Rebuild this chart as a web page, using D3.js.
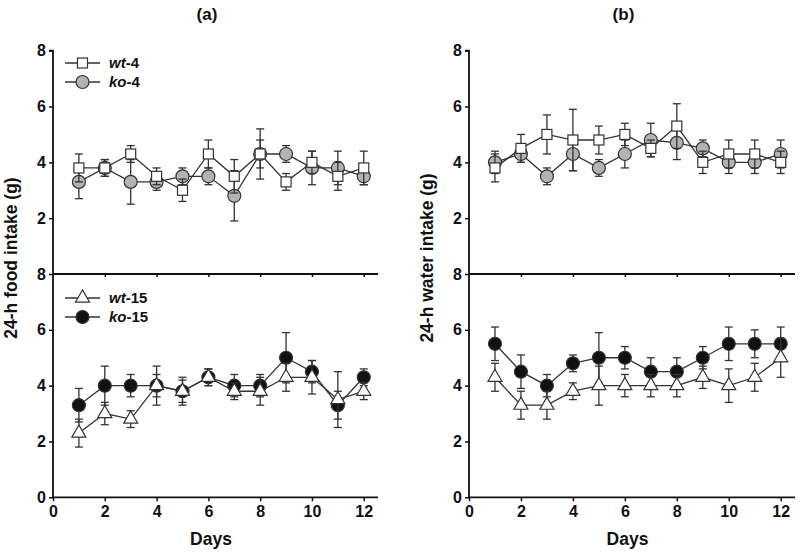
<!DOCTYPE html>
<html>
<head>
<meta charset="utf-8">
<script src="https://cdn.jsdelivr.net/npm/d3@7"></script>
<style>
  body { margin: 0; background: #fff; }
  text { font-family: Arial, "Liberation Sans", sans-serif; font-weight: bold; fill: #111; }
</style>
</head>
<body>
<svg id="chart" width="800" height="554"></svg>
<script>
// days on x axis
const days = [1, 2, 3, 4, 5, 6, 7, 8, 9, 10, 11, 12];

// (a) food intake, mean and sem
const foodWt4 = [3.8, 3.8, 4.3, 3.5, 3.0, 4.3, 3.5, 4.3, 3.3, 4.0, 3.5, 3.8];
const foodWt4Err = [0.5, 0.3, 0.3, 0.3, 0.4, 0.5, 0.6, 0.9, 0.3, 0.4, 0.5, 0.6];
const foodKo4 = [3.3, 3.8, 3.3, 3.3, 3.5, 3.5, 2.8, 4.3, 4.3, 3.8, 3.8, 3.5];
const foodKo4Err = [0.6, 0.3, 0.8, 0.3, 0.3, 0.3, 0.9, 0.5, 0.3, 0.6, 0.6, 0.3];
const foodWt15 = [2.3, 3.0, 2.8, 4.0, 3.8, 4.3, 3.8, 3.8, 4.3, 4.3, 3.5, 3.8];
const foodWt15Err = [0.5, 0.4, 0.3, 0.7, 0.5, 0.3, 0.3, 0.5, 0.5, 0.6, 1.0, 0.3];
const foodKo15 = [3.3, 4.0, 4.0, 4.0, 3.8, 4.3, 4.0, 4.0, 5.0, 4.5, 3.3, 4.3];
const foodKo15Err = [0.6, 0.7, 0.4, 0.4, 0.4, 0.3, 0.4, 0.4, 0.9, 0.4, 0.5, 0.3];

// (b) water intake, mean and sem
const waterWt4 = [3.8, 4.5, 5.0, 4.8, 4.8, 5.0, 4.5, 5.3, 4.0, 4.3, 4.3, 4.0];
const waterWt4Err = [0.5, 0.5, 0.7, 1.1, 0.5, 0.4, 0.3, 0.8, 0.4, 0.5, 0.5, 0.4];
const waterKo4 = [4.0, 4.3, 3.5, 4.3, 3.8, 4.3, 4.8, 4.7, 4.5, 4.0, 4.0, 4.3];
const waterKo4Err = [0.4, 0.3, 0.3, 0.6, 0.3, 0.5, 0.6, 0.6, 0.3, 0.4, 0.4, 0.5];
const waterWt15 = [4.3, 3.3, 3.3, 3.8, 4.0, 4.0, 4.0, 4.0, 4.3, 4.0, 4.3, 5.0];
const waterWt15Err = [0.5, 0.5, 0.5, 0.3, 0.7, 0.4, 0.4, 0.4, 0.4, 0.6, 0.5, 0.7];
const waterKo15 = [5.5, 4.5, 4.0, 4.8, 5.0, 5.0, 4.5, 4.5, 5.0, 5.5, 5.5, 5.5];
const waterKo15Err = [0.6, 0.6, 0.4, 0.3, 0.9, 0.4, 0.5, 0.5, 0.4, 0.6, 0.5, 0.6];

const xTicks = [0, 2, 4, 6, 8, 10, 12];
const yTicksTop = [2, 4, 6, 8];
const yTicksBottom = [0, 2, 4, 6, 8];

const svg = d3.select('#chart');
const lineColor = '#333';

function drawPanel(left, right, title, yLabel, top, bottom, showLegend) {
  const x = d3.scaleLinear().domain([0, 12.55]).range([left, right]);
  const yTop = d3.scaleLinear().domain([0, 8]).range([274, 50.7]);
  const yBot = d3.scaleLinear().domain([0, 8]).range([497.3, 274]);
  // titles sit a little right of the axis origin, centred over the x range 0-12
  const mid = x(6.1);

  svg.append('text').attr('x', mid - 4).attr('y', 20)
    .attr('text-anchor', 'middle').attr('font-size', 17).text(title);

  // axes
  const g = svg.append('g');
  const yAxisTop = g.append('g').attr('transform', `translate(${left},0)`)
    .call(d3.axisLeft(yTop).tickValues(yTicksTop).tickSize(4).tickPadding(3));
  const yAxisBot = g.append('g').attr('transform', `translate(${left},0)`)
    .call(d3.axisLeft(yBot).tickValues(yTicksBottom).tickSize(4).tickPadding(3));
  const midAxis = g.append('g').attr('transform', 'translate(0,274)')
    .call(d3.axisBottom(x).tickValues(xTicks.slice(1)).tickSize(3).tickFormat(''));
  const xAxis = g.append('g').attr('transform', 'translate(0,497.3)')
    .call(d3.axisBottom(x).tickValues(xTicks).tickSize(4).tickPadding(4));
  [yAxisTop, yAxisBot, midAxis, xAxis].forEach((a) => {
    a.selectAll('path').attr('stroke', '#111').attr('stroke-width', 1.8);
    a.selectAll('line').attr('stroke', '#111').attr('stroke-width', 1.5);
    a.selectAll('text').style('font-size', '16px')
      .style('font-family', 'Arial, "Liberation Sans", sans-serif')
      .style('font-weight', 'bold').attr('fill', '#111');
  });
  midAxis.select('path').attr('d', `M${left},0H${right}`);
  xAxis.select('path').attr('d', `M${left},0H${right}`);
  yAxisTop.select('path').attr('d', `M0,${yTop(0)}V${yTop(8)}H-4`);
  yAxisBot.select('path').attr('d', `M0,${yBot(0)}V${yBot(8)}`);

  svg.append('text').attr('x', mid).attr('y', 545)
    .attr('text-anchor', 'middle').attr('font-size', 17.5).text('Days');
  svg.append('text')
    .attr('transform', `translate(${left - 36},258) rotate(-90)`)
    .attr('text-anchor', 'middle').attr('font-size', 17.5).text(yLabel);

  drawGroup(x, yTop, top, 63, showLegend);
  drawGroup(x, yBot, bottom, 298, showLegend);
}

function drawMarker(sel, shape, fill) {
  if (shape === 'square') {
    sel.append('rect').attr('x', -5).attr('y', -5).attr('width', 10).attr('height', 10)
      .attr('fill', fill).attr('stroke', lineColor).attr('stroke-width', 1.2);
  } else if (shape === 'triangle') {
    sel.append('path').attr('d', d3.symbol(d3.symbolTriangle, 85)())
      .attr('fill', fill).attr('stroke', lineColor).attr('stroke-width', 1.2);
  } else {
    sel.append('circle').attr('r', 6.5)
      .attr('fill', fill).attr('stroke', lineColor).attr('stroke-width', 1.2);
  }
}

function drawGroup(x, y, series, legendY, showLegend) {
  const line = d3.line().x((d) => x(d.day)).y((d) => y(d.v));
  // draw ko first so wt sits on top
  series.slice().reverse().forEach((s) => {
    const pts = days.map((d, i) => ({ day: d, v: s.values[i], e: s.err[i] }));
    const g = svg.append('g');
    g.append('path').datum(pts).attr('d', line)
      .attr('fill', 'none').attr('stroke', lineColor).attr('stroke-width', 1.3);
    const eb = g.selectAll('.eb').data(pts).enter().append('g')
      .attr('stroke', lineColor).attr('stroke-width', 1.3);
    eb.append('line').attr('x1', (d) => x(d.day)).attr('x2', (d) => x(d.day))
      .attr('y1', (d) => y(d.v - d.e)).attr('y2', (d) => y(d.v + d.e));
    eb.append('line').attr('x1', (d) => x(d.day) - 4).attr('x2', (d) => x(d.day) + 4)
      .attr('y1', (d) => y(d.v + d.e)).attr('y2', (d) => y(d.v + d.e));
    eb.append('line').attr('x1', (d) => x(d.day) - 4).attr('x2', (d) => x(d.day) + 4)
      .attr('y1', (d) => y(d.v - d.e)).attr('y2', (d) => y(d.v - d.e));
    g.selectAll('.m').data(pts).enter().append('g')
      .attr('transform', (d) => `translate(${x(d.day)},${y(d.v)})`)
      .each(function () { drawMarker(d3.select(this), s.shape, s.fill); });
  });

  if (!showLegend) return;
  const lx = x.range()[0] + 12;
  series.forEach((s, i) => {
    const ly = legendY + i * 19;
    const lg = svg.append('g');
    lg.append('line').attr('x1', lx).attr('x2', lx + 35).attr('y1', ly).attr('y2', ly)
      .attr('stroke', lineColor).attr('stroke-width', 1.3);
    const m = lg.append('g').attr('transform', `translate(${lx + 17.5},${ly})`);
    drawMarker(m, s.shape, s.fill);
    const t = lg.append('text').attr('x', lx + 44).attr('y', ly + 5).attr('font-size', 15);
    t.append('tspan').attr('font-style', 'italic').text(s.name);
    t.append('tspan').text(s.suffix);
  });
}

drawPanel(53, 378, '(a)', '24-h food intake (g)',
  [
    { name: 'wt', suffix: '-4', values: foodWt4, err: foodWt4Err, shape: 'square', fill: '#fff' },
    { name: 'ko', suffix: '-4', values: foodKo4, err: foodKo4Err, shape: 'circle', fill: '#b3b3b3' }
  ],
  [
    { name: 'wt', suffix: '-15', values: foodWt15, err: foodWt15Err, shape: 'triangle', fill: '#fff' },
    { name: 'ko', suffix: '-15', values: foodKo15, err: foodKo15Err, shape: 'circle', fill: '#111' }
  ], true);

drawPanel(469, 795, '(b)', '24-h water intake (g)',
  [
    { name: 'wt', suffix: '-4', values: waterWt4, err: waterWt4Err, shape: 'square', fill: '#fff' },
    { name: 'ko', suffix: '-4', values: waterKo4, err: waterKo4Err, shape: 'circle', fill: '#b3b3b3' }
  ],
  [
    { name: 'wt', suffix: '-15', values: waterWt15, err: waterWt15Err, shape: 'triangle', fill: '#fff' },
    { name: 'ko', suffix: '-15', values: waterKo15, err: waterKo15Err, shape: 'circle', fill: '#111' }
  ], false);
</script>
</body>
</html>
